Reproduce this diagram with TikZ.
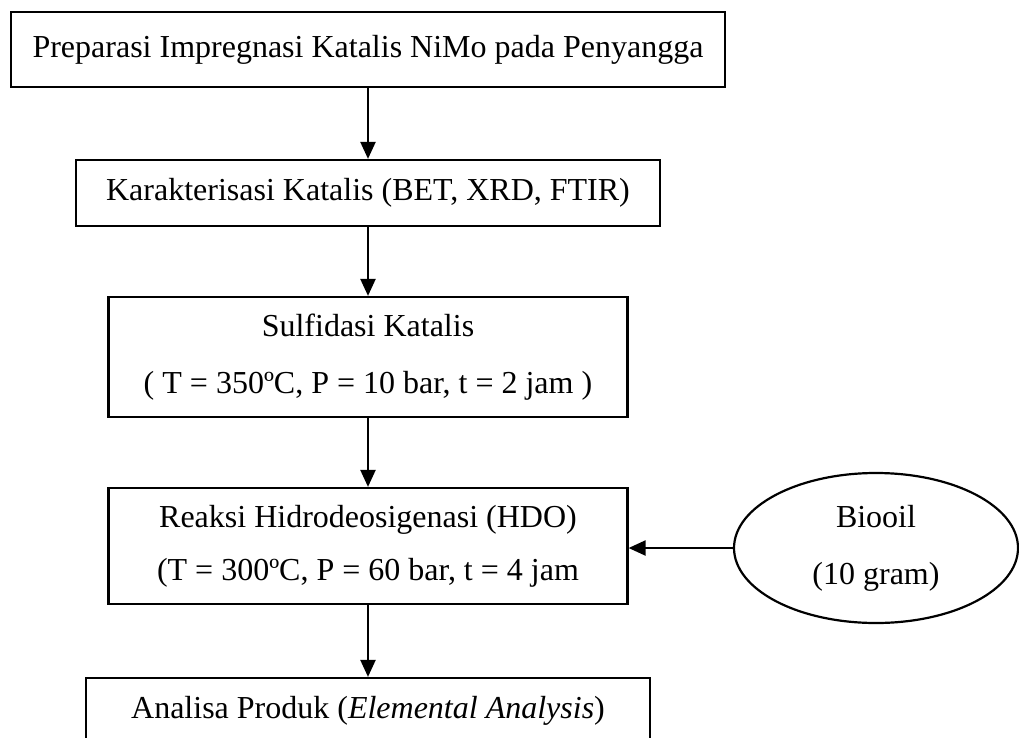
\documentclass[tikz,border=0pt]{standalone}
\usepackage{fontspec}
\setmainfont{Liberation Serif}
\usetikzlibrary{shapes.geometric,arrows.meta}

\begin{document}
\begin{tikzpicture}[x=1pt,y=-1pt,
  box/.style={draw,line width=2.2pt,inner sep=0pt,align=center},
  arr/.style={line width=2.2pt,-{Triangle[length=17pt,width=15pt]}}]
\fontsize{32}{57}\selectfont
\clip (0,0) rectangle (1019,738);
\node[box,minimum width=714pt,minimum height=75pt] (prep) at (368,49.5) {Preparasi Impregnasi Katalis NiMo pada Penyangga};
\node[box,minimum width=584pt,minimum height=66pt] (karak) at (368,193) {Karakterisasi Katalis (BET, XRD, FTIR)};
\node[box,minimum width=519pt,minimum height=120pt] (sulf) at (368,357) {Sulfidasi Katalis\\( T = 350ºC, P = 10 bar, t = 2 jam )};
\node[box,minimum width=519pt,minimum height=116pt] (hdo) at (368,546) {Reaksi Hidrodeosigenasi (HDO)\\[-4pt](T = 300ºC, P = 60 bar, t = 4 jam};
\node[box,ellipse,minimum width=284pt,minimum height=150pt] (bio) at (876,548) {Biooil\\(10 gram)};
\node[box,minimum width=564pt,minimum height=66pt] (anal) at (368,711) {Analisa Produk (\textit{Elemental Analysis})};
\draw[arr] (prep) -- (karak);
\draw[arr] (karak) -- (sulf);
\draw[arr] (sulf) -- (hdo);
\draw[arr] (hdo) -- (anal);
\draw[arr] (bio.west) -- (bio.west -| hdo.east);
\end{tikzpicture}
\end{document}
